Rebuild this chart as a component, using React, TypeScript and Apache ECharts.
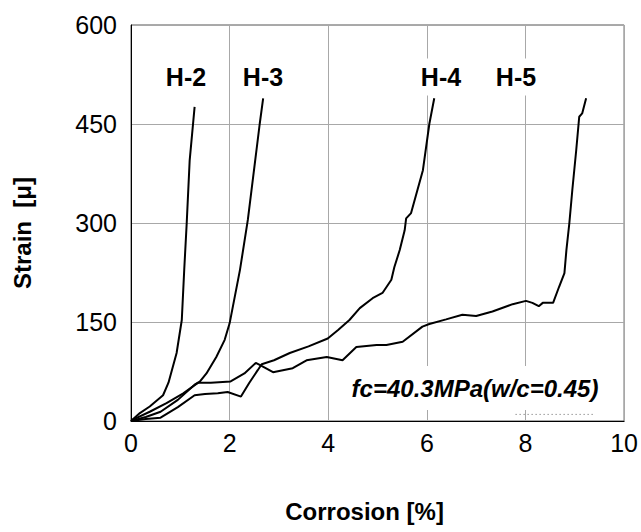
import React, { useEffect, useRef } from "react";
import * as echarts from "echarts";

const xTicks = [0, 2, 4, 6, 8, 10];
const yTicks = [0, 150, 300, 450, 600];

const h2: number[][] = [[0, 0], [0.18, 12], [0.38, 22], [0.65, 39], [0.76, 58], [0.925, 103], [1.03, 153], [1.08, 230], [1.13, 300], [1.19, 395], [1.29, 476]];
const h3: number[][] = [[0, 0], [0.04, 2], [0.38, 14], [0.72, 27], [1.06, 42], [1.4, 60], [1.53, 72], [1.73, 97], [1.9, 123], [2.0, 148], [2.21, 229], [2.37, 305], [2.61, 450], [2.68, 489]];
const h4: number[][] = [[0, 0], [0.3, 3], [0.6, 5], [0.95, 21], [1.29, 39], [1.5, 41], [1.76, 42], [1.96, 44], [2.23, 37], [2.4, 58], [2.57, 77], [2.65, 86], [2.9, 92], [3.22, 103], [3.6, 113], [3.99, 125], [4.2, 138], [4.43, 153], [4.64, 171], [4.9, 186], [5.1, 194], [5.28, 214], [5.34, 233], [5.45, 259], [5.55, 289], [5.58, 307], [5.68, 315], [5.92, 380], [6.05, 450], [6.15, 489]];
const h5: number[][] = [[0, 0], [0.3, 6], [0.6, 14], [0.95, 32], [1.29, 55], [1.36, 58], [1.62, 58], [2.02, 60], [2.3, 72], [2.53, 88], [2.61, 85], [2.88, 74], [3.28, 80], [3.56, 92], [3.97, 97], [4.29, 92], [4.57, 112], [4.98, 115], [5.18, 115], [5.51, 120], [5.91, 143], [6.05, 147], [6.39, 154], [6.72, 161], [7.0, 159], [7.33, 166], [7.74, 177], [8.01, 182], [8.14, 179], [8.27, 174], [8.35, 179], [8.56, 179], [8.68, 203], [8.79, 224], [8.83, 259], [8.89, 300], [8.95, 350], [9.03, 411], [9.09, 461], [9.15, 466], [9.23, 489]];
const dotted: number[][] = [[7.8, 10], [9.4, 10]];

const seriesNames = ["H-2", "H-3", "H-4", "H-5"];
const annotation = "fc=40.3MPa(w/c=0.45)";

const FONT = "'Liberation Sans', Arial, sans-serif";

export default function App() {
  const ref = useRef<HTMLDivElement>(null);
  useEffect(() => {
    if (!ref.current) return;
    const chart = echarts.init(ref.current, undefined, { renderer: "svg" });
    const lineSeries = [h2, h3, h4, h5].map((d, i) => ({
      name: seriesNames[i],
      type: "line",
      data: d,
      showSymbol: false,
      lineStyle: { color: "#000", width: 2 },
      z: 3,
    }));
    const labelPos = [186, 263, 441, 516];
    chart.setOption({
      animation: false,
      backgroundColor: "#fff",
      grid: { left: 131, top: 25, width: 494, height: 396, show: true, borderColor: "#555", borderWidth: 1 },
      xAxis: {
        type: "value",
        min: 0,
        max: 10,
        interval: 2,
        name: "Corrosion [%]",
        nameLocation: "middle",
        nameGap: 78,
        nameTextStyle: { fontFamily: FONT, fontSize: 24, fontWeight: "bold", color: "#000", padding: [0, 26, 0, 0] },
        axisLine: { show: true, lineStyle: { color: "#000", width: 1 } },
        axisTick: { show: false },
        splitLine: { show: true, lineStyle: { color: "#a8a8a8", width: 1 } },
        axisLabel: { fontFamily: FONT, fontSize: 25, color: "#000", margin: 9 },
      },
      yAxis: {
        type: "value",
        min: 0,
        max: 600,
        interval: 150,
        name: "Strain  [μ]",
        nameLocation: "middle",
        nameGap: 97,
        nameRotate: 90,
        nameTextStyle: { fontFamily: FONT, fontSize: 24, fontWeight: "bold", color: "#000", padding: [0, 20, 0, 0] },
        axisLine: { show: true, lineStyle: { color: "#000", width: 1 } },
        axisTick: { show: false },
        splitLine: { show: true, lineStyle: { color: "#a8a8a8", width: 1 } },
        axisLabel: { fontFamily: FONT, fontSize: 25, color: "#000", margin: 14 },
      },
      graphic: [
        ...seriesNames.map((n, i) => ({
          type: "text",
          x: labelPos[i],
          y: 77,
          z: 10,
          style: {
            text: n,
            fontFamily: FONT,
            fontSize: 25,
            fontWeight: "bold",
            fill: "#000",
            align: "center",
            verticalAlign: "middle",
            backgroundColor: "#fff",
            padding: [6, 2, 6, 2],
          },
        })),
        {
          type: "text",
          x: 475,
          y: 388,
          z: 10,
          style: {
            text: annotation,
            fontFamily: FONT,
            fontSize: 24,
            fontWeight: "bold",
            fontStyle: "italic",
            fill: "#000",
            align: "center",
            verticalAlign: "middle",
            backgroundColor: "#fff",
            padding: [10, 4, 10, 4],
          },
        },
      ],
      series: [
        ...lineSeries,
        {
          name: "ref",
          type: "line",
          data: dotted,
          showSymbol: false,
          lineStyle: { color: "#666", width: 1, type: [1, 3] },
          z: 11,
        },
      ],
    });
    return () => chart.dispose();
  }, []);
  return <div ref={ref} style={{ width: 641, height: 532, position: "absolute", left: 0, top: 0 }} />;
}
